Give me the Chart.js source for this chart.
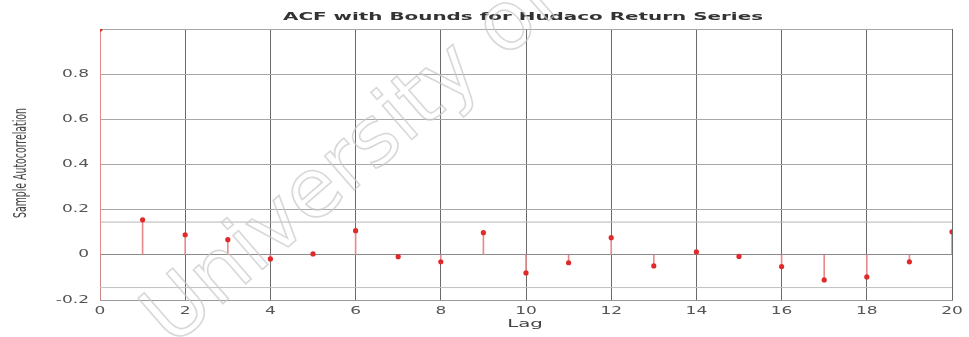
<!DOCTYPE html>
<html>
<head>
<meta charset="utf-8">
<script src="https://cdn.jsdelivr.net/npm/chart.js@4"></script>
<style>
  html, body { margin: 0; padding: 0; background: #fff; }
  #wrap { width: 969px; height: 337px; }
</style>
</head>
<body>
<div id="wrap"><canvas id="acf"></canvas></div>
<script>
// Sample autocorrelation of the Hudaco return series, lags 0..20
const lags = [0, 1, 2, 3, 4, 5, 6, 7, 8, 9, 10, 11, 12, 13, 14, 15, 16, 17, 18, 19, 20];
const acfValues = [1.0, 0.155, 0.089, 0.067, -0.018, 0.004, 0.107, -0.008, -0.031, 0.098,
                   -0.080, -0.035, 0.076, -0.049, 0.013, -0.007, -0.052, -0.111, -0.098, -0.031, 0.102];
// approximate 95% confidence bounds
const upperBound = 0.145;
const lowerBound = -0.145;
const xTickValues = [0, 2, 4, 6, 8, 10, 12, 14, 16, 18, 20];
const yTickValues = [-0.2, 0, 0.2, 0.4, 0.6, 0.8, 1];
const yTickLabels = ['-0.2', '0', '0.2', '0.4', '0.6', '0.8', ''];

const titleText = 'ACF with Bounds for Hudaco Return Series';
const xTitle = 'Lag';
const yTitle = 'Sample Autocorrelation';
const markText = 'University of Cape Town';

const points = lags.map((l, i) => ({ x: l, y: acfValues[i] }));

// draws text stretched along its own baseline
function wideText(ctx, text, x, y, align, sx, sy) {
  ctx.save();
  ctx.translate(x, y);
  ctx.scale(sx, sy || 1);
  ctx.textAlign = align;
  ctx.fillText(text, 0, 0);
  ctx.restore();
}

const textPlugin = {
  id: 'acfText',
  afterDraw(chart) {
    const ctx = chart.ctx;
    const xs = chart.scales.x, ys = chart.scales.y;
    ctx.save();
    ctx.textBaseline = 'middle';
    ctx.fillStyle = '#555';
    ctx.font = '10px "DejaVu Sans"';
    yTickValues.forEach((v, i) => {
      if (yTickLabels[i]) wideText(ctx, yTickLabels[i], 89, ys.getPixelForValue(v), 'right', 1.7);
    });
    xTickValues.forEach(v => {
      wideText(ctx, String(v), xs.getPixelForValue(v), 311, 'center', 1.7);
    });
    ctx.font = '11px "DejaVu Sans"';
    ctx.fillStyle = '#444';
    wideText(ctx, xTitle, 525, 324, 'center', 1.8);
    ctx.fillStyle = '#333';
    ctx.font = 'bold 11px "DejaVu Sans"';
    const tw = ctx.measureText(titleText).width;
    wideText(ctx, titleText, 523, 17, 'center', 480 / tw);

    // rotated axis title
    ctx.fillStyle = '#444';
    ctx.font = '10px "DejaVu Sans"';
    const yw = ctx.measureText(yTitle).width;
    ctx.save();
    ctx.translate(22, 163);
    ctx.rotate(-Math.PI / 2);
    ctx.scale(110 / yw, 1.7);
    ctx.textAlign = 'center';
    ctx.fillText(yTitle, 0, 0);
    ctx.restore();

    // faint diagonal watermark
    ctx.save();
    ctx.translate(172, 348);
    ctx.rotate(-41 * Math.PI / 180);
    ctx.font = '82px "DejaVu Sans"';
    ctx.textAlign = 'left';
    ctx.textBaseline = 'alphabetic';
    ctx.strokeStyle = 'rgba(200,200,200,0.7)';
    ctx.lineWidth = 1.6;
    ctx.strokeText(markText, 0, 0);
    ctx.restore();
    ctx.restore();
  }
};

new Chart(document.getElementById('acf'), {
  type: 'bar',
  data: {
    datasets: [
      {
        type: 'scatter',
        label: 'ACF',
        data: points,
        pointRadius: 2.6,
        pointBackgroundColor: '#e02a2a',
        pointBorderWidth: 0,
        showLine: false,
        order: 1
      },
      {
        type: 'bar',
        label: 'stems',
        data: points,
        backgroundColor: '#e98a8a',
        borderWidth: 0,
        barThickness: 1,
        order: 2
      },
      {
        type: 'line',
        label: 'upper bound',
        data: [{ x: lags[0], y: upperBound }, { x: lags[lags.length - 1], y: upperBound }],
        borderColor: '#b5b5b5',
        borderWidth: 1,
        pointRadius: 0,
        order: 3
      },
      {
        type: 'line',
        label: 'lower bound',
        data: [{ x: lags[0], y: lowerBound }, { x: lags[lags.length - 1], y: lowerBound }],
        borderColor: '#c0c0c0',
        borderWidth: 1,
        pointRadius: 0,
        order: 3
      }
    ]
  },
  options: {
    responsive: true,
    maintainAspectRatio: false,
    animation: false,
    layout: { padding: { top: 29, right: 17, left: 100, bottom: 37 } },
    plugins: {
      legend: { display: false },
      tooltip: { enabled: false },
      title: { display: false }
    },
    scales: {
      x: {
        type: 'linear',
        min: 0,
        max: 20,
        offset: false,
        afterBuildTicks: s => { s.ticks = xTickValues.map(v => ({ value: v })); },
        ticks: { display: false },
        grid: { offset: false, color: '#6a6a6a', lineWidth: 1, drawTicks: false },
        border: { color: '#9a9a9a' }
      },
      y: {
        type: 'linear',
        min: -0.2,
        max: 1,
        afterBuildTicks: s => { s.ticks = yTickValues.map(v => ({ value: v })); },
        ticks: { display: false },
        grid: {
          color: c => (c.tick && c.tick.value === 0) ? '#8a8a8a' : '#a8a8a8',
          lineWidth: 1,
          drawTicks: false
        },
        border: { color: '#c88' }
      }
    }
  },
  plugins: [textPlugin]
});
</script>
</body>
</html>
